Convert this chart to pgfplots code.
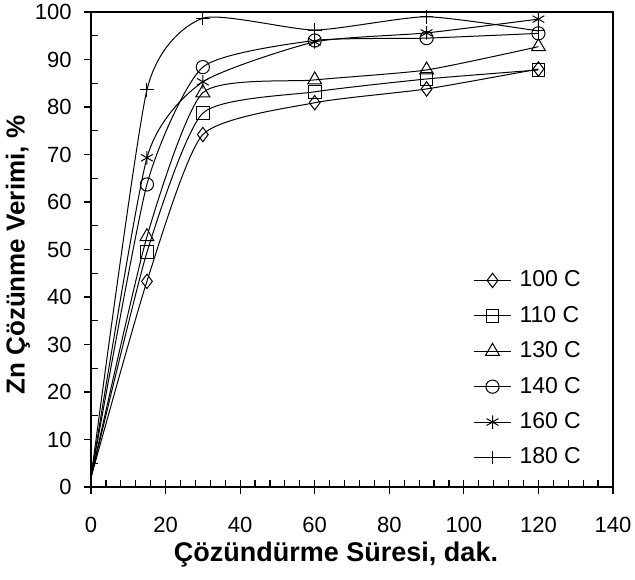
\documentclass[border=0pt]{standalone}
\usepackage{fontspec}
\setmainfont{Liberation Sans}
\usepackage{pgfplots}
\pgfplotsset{compat=1.18}
\begin{document}
\begin{tikzpicture}
\begin{axis}[
  scale only axis, width=261pt, height=237.5pt,
  xmin=0, xmax=140, ymin=0, ymax=100,
  xtick={0,20,...,140}, ytick={0,10,...,100},
  minor x tick num=4, minor y tick num=1,
  tick pos=left,
  tick align=inside,
  major tick length=3.6pt, minor tick length=3.3pt,
  tick style={line width=0.6pt, black},
  major y tick style={xshift=-3.6pt},
  extra x ticks={0,20,...,140}, extra x tick labels={},
  extra x tick style={tick align=outside},
  axis line style={line width=0.75pt},
  /pgf/number format/assume math mode=true,
  ticklabel style={font=\fontsize{11}{13}\selectfont},
  yticklabel style={inner sep=0pt, anchor=east, xshift=-9.5pt},
  xticklabel style={inner sep=0pt, anchor=north, yshift=-15pt},
  xlabel={Çözündürme Süresi, dak.},
  ylabel={Zn Çözünme Verimi, \%},
  xlabel style={font=\bfseries\fontsize{13.5}{16}\selectfont,
    at={([xshift=-8pt,yshift=-37pt]axis description cs:0.5,0)}, anchor=base},
  ylabel style={font=\bfseries\fontsize{13}{16}\selectfont,
    at={([xshift=-36.5pt]axis description cs:0,0.488)}, anchor=center},
  legend cell align=left,
  legend image code/.code={
    \draw[#1] (0pt,0pt) -- (18.5pt,0pt);
    \draw[#1, mark indices={1}] plot coordinates {(9.25pt,0pt)};
  },
  legend style={draw=none, fill=none, inner sep=0pt,
    at={(0.732,0.462)}, anchor=north west,
    font=\fontsize{11.5}{13}\selectfont,
    nodes={inner sep=1pt, text height=8.5pt, text depth=2pt},
    row sep=5.2pt,
    /tikz/every odd column/.append style={column sep=3pt}},
  every axis plot/.append style={black, line width=0.5pt, smooth, tension=0.35,
    mark indices={2,3,4,5,6},
    mark options={fill=white, solid, line width=0.5pt}},
]
\addplot[mark=diamond, mark size=3.6pt] coordinates {(0,2)(15,43.3)(30,74.2)(60,80.9)(90,83.8)(120,88)};
\addlegendentry{100 C}
\addplot[mark=square, mark size=3.2pt] coordinates {(0,2)(15,49.4)(30,78.7)(60,83.2)(90,85.9)(120,87.8)};
\addlegendentry{110 C}
\addplot[mark=triangle, mark size=4pt] coordinates {(0,2)(15,52.7)(30,83)(60,85.7)(90,87.8)(120,92.7)};
\addlegendentry{130 C}
\addplot[mark=o, mark size=3.3pt] coordinates {(0,2)(15,63.7)(30,88.4)(60,94)(90,94.5)(120,95.5)};
\addlegendentry{140 C}
\addplot[mark=asterisk, mark size=3.4pt] coordinates {(0,2)(15,69.3)(30,85.3)(60,93.7)(90,95.6)(120,98.5)};
\addlegendentry{160 C}
\addplot[mark=+, mark size=3.4pt] coordinates {(0,2)(15,83.6)(30,98.7)(60,96.2)(90,99)(120,96)};
\addlegendentry{180 C}
\end{axis}
\pgfresetboundingbox
\path ([shift={(-45.5pt,-46pt)}]current axis.south west) rectangle ([shift={(11pt,6pt)}]current axis.north east);
\end{tikzpicture}
\end{document}
